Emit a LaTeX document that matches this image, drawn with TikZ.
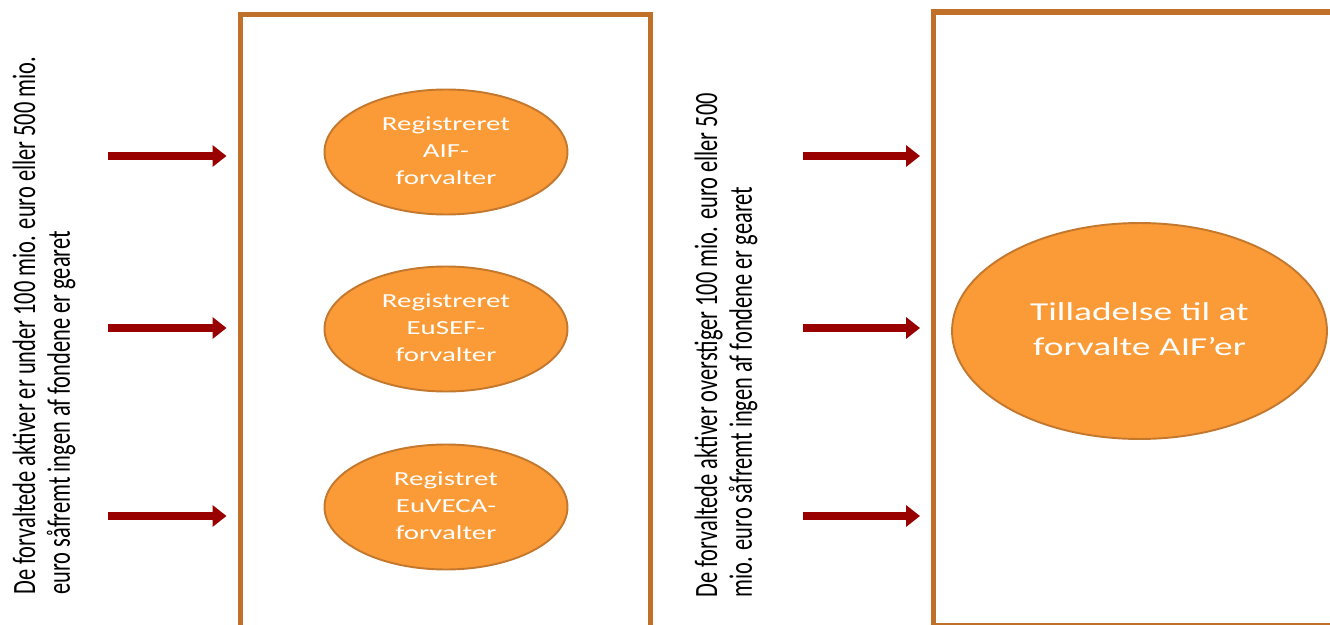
\documentclass[tikz,border=0pt]{standalone}
\usepackage{fontspec}
\setmainfont{Carlito}
\usepackage{graphicx}
\usetikzlibrary{shapes.geometric,arrows.meta}
\definecolor{boxc}{HTML}{C07028}
\definecolor{ellfill}{HTML}{FB9B37}
\definecolor{elldraw}{HTML}{C4782E}
\definecolor{arrc}{HTML}{990000}
\newcommand\rottext[2]{\scalebox{1}[1.45]{\vtop{\fontsize{12.76}{13.7}\selectfont\lineskiplimit=-100pt\hbox{#1}\hbox{#2}}}}
\newcommand\smallell[3]{\scalebox{1.45}[1]{\fontsize{11.34}{15.3}\selectfont\begin{tabular}{@{}c@{}}#1\\#2\\#3\end{tabular}}}
\newcommand\bigell[2]{\scalebox{1.45}[1]{\fontsize{14.7}{19.8}\selectfont\begin{tabular}{@{}c@{}}#1\\#2\end{tabular}}}
\tikzset{
  frame/.style={draw=boxc, line width=2.9pt},
  oval/.style={ellipse, draw=elldraw, line width=1.1pt, fill=ellfill, text=white, inner sep=0pt},
  smalloval/.style={oval, minimum width=4.86cm, minimum height=2.5cm},
  bigoval/.style={oval, minimum width=7.5cm, minimum height=4.32cm},
  redarrow/.style={draw=arrc, line width=5.1pt, -{Triangle[length=7.9pt,width=11.9pt]}},
  sidetext/.style={rotate=90, anchor=base west, inner sep=0pt, text=black}
}
\begin{document}
\begin{tikzpicture}[x=0.02cm, y=-0.02cm]
\useasboundingbox (0,0) rectangle (1330,625);
\clip (0,0) rectangle (1330,625);
\fill[white] (0,0) rectangle (1330,625);
% frames
\draw[frame] (240.5,640) -- (240.5,14.7) -- (650.5,14.7) -- (650.5,640);
\draw[frame] (933.5,626) -- (933.5,12) -- (1345,12) -- (1345,626) -- cycle;
% ellipses
\node[smalloval] (e1) at (446,152) {\smallell{Registreret}{AIF-}{forvalter}};
\node[smalloval] (e2) at (446,329) {\smallell{Registreret}{EuSEF-}{forvalter}};
\node[smalloval] (e3) at (446,507) {\smallell{Registret}{EuVECA-}{forvalter}};
\node[bigoval] (e4) at (1139.5,331) {\bigell{Tilladelse til at}{forvalte AIF’er}};
% side texts
\node[sidetext] (t1) at (35,595) {\rottext{De forvaltede aktiver er under 100 mio. euro eller 500 mio.}{euro såfremt ingen af fondene er gearet}};
\node[sidetext] (t2) at (717,598) {\rottext{De forvaltede aktiver overstiger 100 mio. euro eller 500}{mio. euro såfremt ingen af fondene er gearet}};
% arrows
\coordinate (l1s) at (108,156); \coordinate (l1e) at (226.5,156);
\coordinate (l2s) at (108,328); \coordinate (l2e) at (226.5,328);
\coordinate (l3s) at (108,516); \coordinate (l3e) at (226.5,516);
\coordinate (r1s) at (803,156); \coordinate (r1e) at (920,156);
\coordinate (r2s) at (803,328); \coordinate (r2e) at (920,328);
\coordinate (r3s) at (803,516); \coordinate (r3e) at (920,516);
\draw[redarrow] (l1s) -- (l1e);
\draw[redarrow] (l2s) -- (l2e);
\draw[redarrow] (l3s) -- (l3e);
\draw[redarrow] (r1s) -- (r1e);
\draw[redarrow] (r2s) -- (r2e);
\draw[redarrow] (r3s) -- (r3e);
\end{tikzpicture}
\end{document}
